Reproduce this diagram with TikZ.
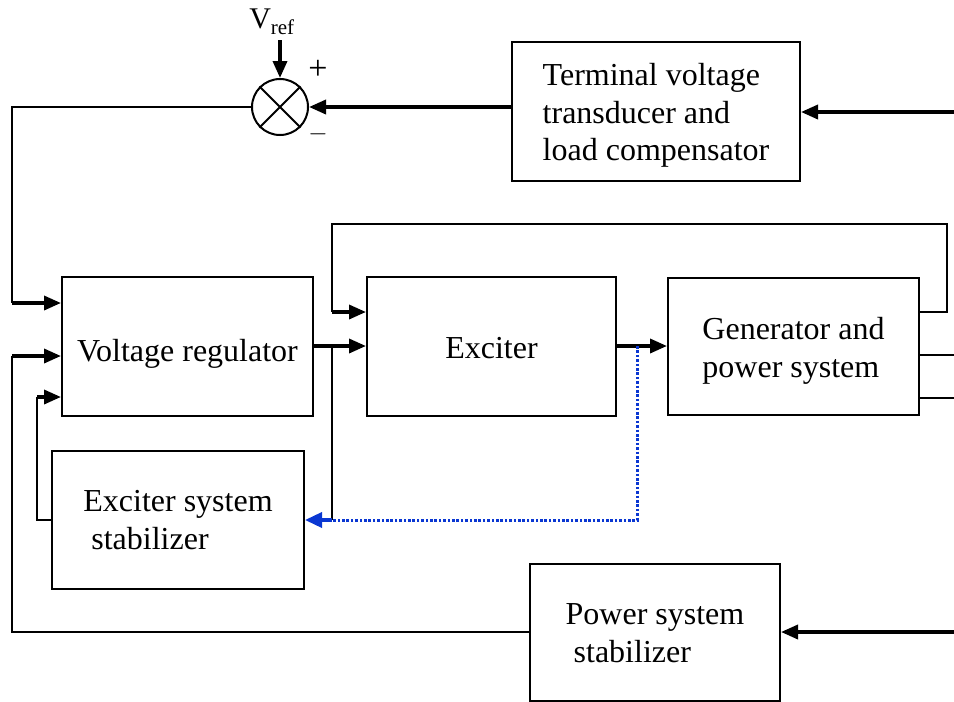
\documentclass[tikz,border=0pt]{standalone}
\usepackage{fontspec}
\setmainfont{Liberation Serif}
\usetikzlibrary{arrows.meta,positioning,calc}
\definecolor{dotblue}{RGB}{10,55,210}
% block text, lowered a little inside its box
\newcommand{\blocktxt}[2][4pt]{\raisebox{-#1}[\height][\depth]{\begin{tabular}{@{}l@{}}#2\end{tabular}}}

\begin{document}
\begin{tikzpicture}[x=1pt, y=-1pt,
  block/.style={draw, line width=2pt, font=\fontsize{32}{37.5}\selectfont},
  wire/.style={line width=2pt},
  sig/.style={line width=3.5pt, -{Triangle[length=17pt,width=14pt]}},
  dotwire/.style={dotblue, line width=3pt, dash pattern=on 2.6pt off 1.8pt}
]
\useasboundingbox (0,0) rectangle (954,702);

% ================= BLOCKS =================
\node[block, minimum width=288pt, minimum height=139pt] (term) at (656,111.5)
  {\blocktxt{Terminal voltage\\transducer and\\load compensator}};
\node[block, minimum width=251pt, minimum height=139pt] (vr) at (187.5,346)
  {\blocktxt[8pt]{Voltage regulator}};
\node[block, minimum width=249pt, minimum height=139pt] (exc) at (491.5,346)
  {\blocktxt[5pt]{Exciter}};
\node[block, minimum width=251pt, minimum height=137pt] (gen) at (793.5,346)
  {\blocktxt[5pt]{Generator and\\power system}};
\node[block, minimum width=252pt, minimum height=138pt] (ess) at (178,520)
  {\blocktxt[3pt]{Exciter system\\\hspace{8pt}stabilizer}};
\node[block, minimum width=250pt, minimum height=137pt] (pss) at (655,632)
  {\blocktxt{Power system\\\hspace{8pt}stabilizer}};

% Summing junction
\node[draw, circle, line width=2pt, minimum size=56pt, inner sep=0pt] (sum) at (280,107) {};
\draw[wire] (sum.north west) -- (sum.south east) (sum.north east) -- (sum.south west);
\node[font=\fontsize{30}{32}\selectfont] (vref) at (272,22) {V\textsubscript{ref}};
\node[font=\fontsize{34}{36}\selectfont] (plus) at (318,70) {+};
\node[font=\fontsize{34}{36}\selectfont] (minus) at (318,134) {$-$};

% ================= COORDINATES =================
\coordinate (inT) at (954,112);
\coordinate (inP) at (954,632);
\coordinate (out1) at (954,355);
\coordinate (out2) at (954,398);
\coordinate (c1) at (12,303);
\coordinate (p1) at (12,356);
\coordinate (e1) at (37,397);
\coordinate (j1) at (332,346);
\coordinate (j2) at (637,346);
\coordinate (lp) at (947,224);
\coordinate (lq) at (332,312);
\coordinate (vin) at (280,40);

% ================= CONNECTIONS =================
\draw[sig] (vin) -- (sum.north);
\draw[sig] (inT) -- (inT -| term.east);
\draw[sig] (sum.east -| term.west) -- (sum.east);

% feedback into voltage regulator
\draw[wire] (sum.west) -| (c1);
\draw[sig] (c1) -- (c1 -| vr.west);
\draw[wire] (pss.west) -| (p1);
\draw[sig] (p1) -- (p1 -| vr.west);
\draw[wire] (ess.west) -| (e1);
\draw[sig] (e1) -- (e1 -| vr.west);

% forward path
\draw[sig] (vr.east) -- (exc.west);
\draw[sig] (exc.east) -- (gen.west);

% loop from generator back to exciter
\draw[wire] (gen.east |- lq) -| (lp) -| (lq);
\draw[sig] (lq) -- (lq -| exc.west);

% generator outputs
\draw[wire] (gen.east |- out1) -- (out1);
\draw[wire] (gen.east |- out2) -- (out2);

% exciter stabilizer path
\draw[wire] (j1) -- (j1 |- ess.east);
\draw[dotwire] (j2) |- (j1 |- ess.east);
\draw[dotblue, line width=3.5pt, -{Triangle[length=17pt,width=15pt]}] (j1 |- ess.east) -- (ess.east);

% power system stabilizer input
\draw[sig] (inP) -- (pss.east);

\end{tikzpicture}
\end{document}
